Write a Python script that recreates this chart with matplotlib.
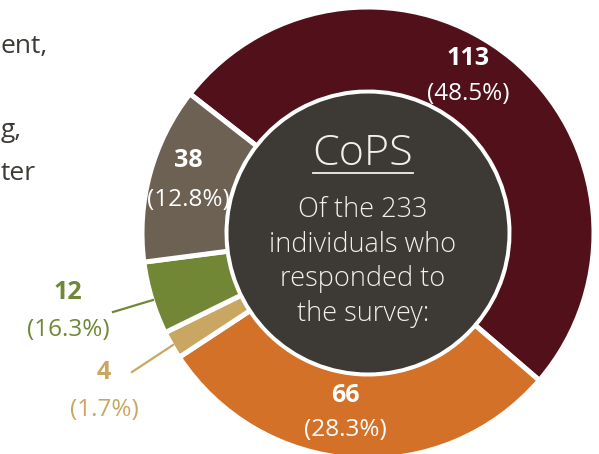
import matplotlib
matplotlib.use("Agg")
import matplotlib.pyplot as plt
from matplotlib.patches import Circle

# ---- data (clockwise from upper-left) ----
counts = [113, 66, 4, 12, 38]
pct_labels = ["(48.5%)", "(28.3%)", "(1.7%)", "(16.3%)", "(12.8%)"]
slice_share = [50.7, 29.4, 2.0, 5.2, 12.6]   # drawn share of the ring
colors = ["#52111a", "#d37128", "#c9a762", "#718736", "#6d6153"]
center_title = "CoPS"
center_lines = ["Of the 233", "individuals who", "responded to", "the survey:"]
side_fragments = ["ent,", "g,", "ter"]

W, H = 599, 454
plt.rcParams["font.family"] = ["Open Sans", "DejaVu Sans"]
fig = plt.figure(figsize=(W / 100, H / 100), dpi=100)
ax = fig.add_axes([0, 0, 1, 1])

cx, cy = 368, 221
R = 226
inner = 141
ax.pie(slice_share, colors=colors, radius=R, center=(cx, cy), startangle=142,
       counterclock=False, frame=True,
       wedgeprops=dict(width=R - inner, edgecolor="white", linewidth=3.6))
ax.set_xlim(0, W)
ax.set_ylim(0, H)
ax.set_aspect("equal")
ax.axis("off")

ax.add_patch(Circle((cx, cy), 139.5, facecolor="#3d3a35", edgecolor="none", zorder=3))

light = "#f2f0ec"
ax.text(363, 289, center_title, ha="center", va="baseline", fontsize=31,
        fontweight="light", color=light, zorder=4)
ax.plot([313, 413], [281, 281], color=light, lw=1.3, zorder=4)
for i, line in enumerate(center_lines):
    ax.text(363, 237 - i * 34.5, line, ha="center", va="baseline", fontsize=19.5,
            fontweight="light", color=light, zorder=4)

# slice labels: (x, baseline of count, baseline of pct, colour)
label_pos = [
    (468, 389, 354, "white"),
    (345, 52, 17.5, "white"),
    (104, 75, 38.5, colors[2]),
    (68, 155, 118.5, colors[3]),
    (188, 287, 248.5, "white"),
]
for n, p, (x, yb1, yb2, c) in zip(counts, pct_labels, label_pos):
    ax.text(x, yb1, str(n), ha="center", va="baseline", fontsize=18,
            fontweight="bold", color=c, zorder=5)
    ax.text(x, yb2, p, ha="center", va="baseline", fontsize=17.5,
            color=c, zorder=5)

# leader lines
ax.plot([113, 153], [142, 154], color=colors[3], lw=1.6, zorder=2)
ax.plot([132, 173], [82, 109], color=colors[2], lw=1.6, zorder=2)

# text fragments at the left edge
dark = "#3d3a35"
frag_pos = [(1, 401), (1, 317), (1, 274)]
for t, (x, y) in zip(side_fragments, frag_pos):
    ax.text(x, y, t, ha="left", va="baseline", fontsize=19, color=dark)

fig.savefig("out.png", dpi=100)
